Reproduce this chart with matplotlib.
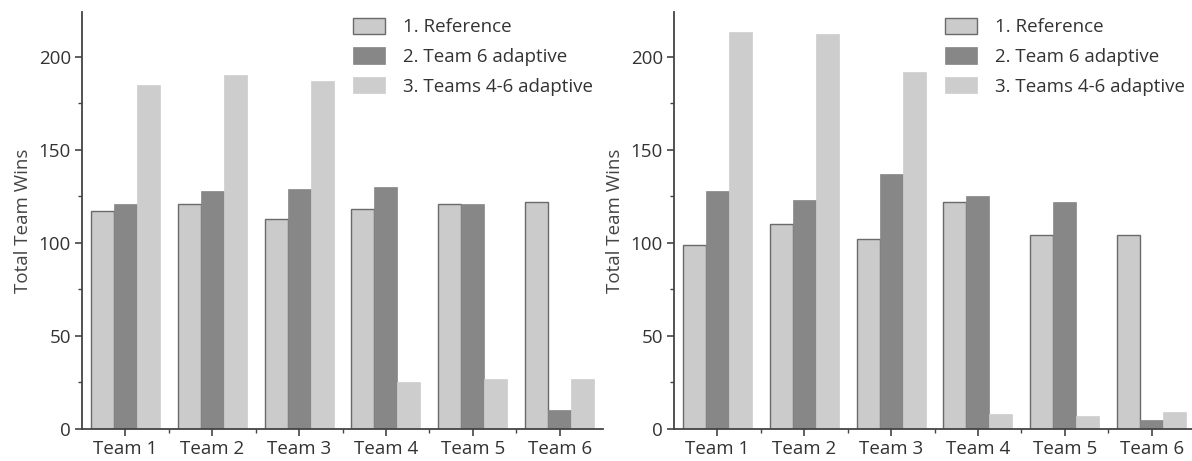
import numpy as np
import matplotlib.pyplot as plt

teams = ['Team 1', 'Team 2', 'Team 3', 'Team 4', 'Team 5', 'Team 6']
labels = ['1. Reference', '2. Team 6 adaptive', '3. Teams 4-6 adaptive']

# left panel
left_ref = [117, 121, 113, 118, 121, 122]
left_t6 = [121, 128, 129, 130, 121, 10]
left_t46 = [185, 190, 187, 25, 27, 27]

# right panel
right_ref = [99, 110, 102, 122, 104, 104]
right_t6 = [128, 123, 137, 125, 122, 5]
right_t46 = [213, 212, 192, 8, 7, 9]

plt.rcParams['font.family'] = ['Open Sans', 'DejaVu Sans']

W, H = 1192, 461
fig = plt.figure(figsize=(W / 100, H / 100), dpi=100)
FS = 13.5


def draw_panel(ax, ref, t6, t46):
    x = np.arange(len(teams))
    w = 0.265
    ax.bar(x - w, ref, w, color='#cbcbcb', edgecolor='#6a6a6a', linewidth=1.0, label=labels[0])
    ax.bar(x, t6, w, color='#878787', edgecolor='#878787', linewidth=0.5, label=labels[1])
    ax.bar(x + w, t46, w, color='#cdcdcd', edgecolor='#cdcdcd', linewidth=0.5, label=labels[2])

    ax.set_xlim(-0.5, 5.5)
    ax.set_ylim(0, 224)
    ax.set_xticks(x)
    ax.set_xticklabels(teams)
    ax.set_xticks(x[:-1] + 0.5, minor=True)
    ax.set_yticks([0, 50, 100, 150, 200])
    ax.set_yticks([25, 75, 125, 175], minor=True)

    for s in ['top', 'right']:
        ax.spines[s].set_visible(False)
    for s in ['left', 'bottom']:
        ax.spines[s].set_color('#444444')
        ax.spines[s].set_linewidth(1.3)

    ax.tick_params(axis='both', which='major', direction='out', length=5, width=1.2,
                   color='#444444', labelcolor='#333333', labelsize=FS, pad=3)
    ax.tick_params(axis='both', which='minor', direction='out', length=3, width=1.0,
                   color='#444444')
    ax.set_ylabel('Total Team Wins', fontsize=FS, color='#444444', labelpad=5)

    ax.legend(loc='upper left', bbox_to_anchor=(0.488, 1.027), frameon=False,
              fontsize=FS, handlelength=1.7, handleheight=0.95,
              handletextpad=0.95, labelspacing=0.6, labelcolor='#333333')


axw = 521 / W
axh = (429 - 12) / H
axb = (H - 429) / H

ax1 = fig.add_axes([82 / W, axb, axw, axh])
draw_panel(ax1, left_ref, left_t6, left_t46)

ax2 = fig.add_axes([674 / W, axb, axw, axh])
draw_panel(ax2, right_ref, right_t6, right_t46)

fig.savefig('out.png', dpi=100)
